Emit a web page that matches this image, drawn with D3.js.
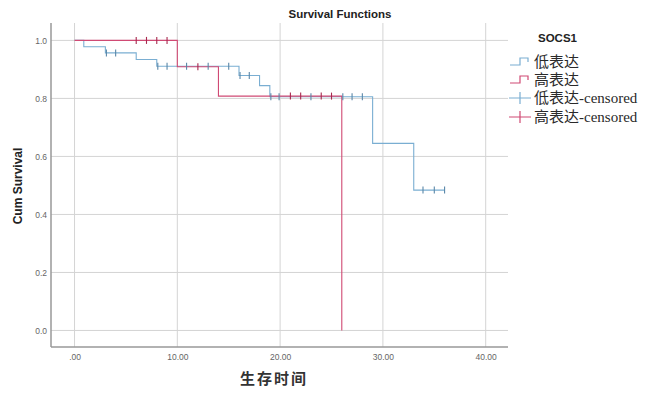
<!DOCTYPE html>
<html>
<head>
<meta charset="utf-8">
<script src="https://cdn.jsdelivr.net/npm/d3@7"></script>
<style>
  body { margin: 0; background: #fff; }
  svg { display: block; }
  .tick-label { font-family: Arial, "Liberation Sans", sans-serif; font-size: 8.5px; fill: #666; }
  .legend-text { font-family: "Liberation Serif", "Noto Sans CJK SC", serif; font-size: 15px; fill: #2a2a2a; }
</style>
</head>
<body>
<svg id="chart" width="657" height="395"></svg>
<script>
// survival steps: [time, cum survival]
const lowSteps = [[0, 1], [0.9, 0.978], [3.0, 0.957], [6.0, 0.934], [8.0, 0.911],
  [16.0, 0.879], [18.0, 0.844], [19.0, 0.806], [29.0, 0.645], [33.0, 0.484]];
const lowEnd = 36.0;
const lowCensored = [3.1, 4.0, 8.1, 9.0, 10.9, 13.0, 15.0, 16.1, 17.0,
  19.1, 19.9, 23.0, 26.1, 27.0, 28.0, 33.9, 35.0, 36.0];

const highSteps = [[0, 1], [10.0, 0.909], [14.0, 0.808], [26.0, 0.0]];
const highEnd = 26.0;
const highCensored = [6.0, 7.0, 8.0, 9.0, 12.0, 21.0, 22.0, 24.0, 25.0];

const xTicks = [0, 10, 20, 30, 40];
const yTicks = [0, 0.2, 0.4, 0.6, 0.8, 1.0];
const groups = ["低表达", "高表达"];
const colors = ["#7aaed2", "#d04a74"];
const markColors = ["#5a87a8", "#a8294f"];

const svg = d3.select("#chart");
const plot = { left: 51, right: 508, top: 23, bottom: 347 };

const x = d3.scaleLinear().domain([-2.29, 42.17]).range([plot.left, plot.right]);
const y = d3.scaleLinear().domain([-0.057, 1.06]).range([plot.bottom, plot.top]);

// grid
svg.append("g").selectAll("line").data(xTicks).join("line")
  .attr("x1", d => x(d)).attr("x2", d => x(d))
  .attr("y1", plot.top).attr("y2", plot.bottom)
  .attr("stroke", "#d4d4d4").attr("stroke-width", 1);
svg.append("g").selectAll("line").data(yTicks).join("line")
  .attr("x1", plot.left).attr("x2", plot.right)
  .attr("y1", d => y(d)).attr("y2", d => y(d))
  .attr("stroke", "#d4d4d4").attr("stroke-width", 1);

// axes
const xAxis = d3.axisBottom(x).tickValues(xTicks).tickSize(0).tickPadding(7)
  .tickFormat(d => d === 0 ? ".00" : d3.format(".2f")(d));
const yAxis = d3.axisLeft(y).tickValues(yTicks).tickSize(0).tickPadding(4)
  .tickFormat(d3.format(".1f"));

const xg = svg.append("g").attr("transform", `translate(0,${plot.bottom})`).call(xAxis);
const yg = svg.append("g").attr("transform", `translate(${plot.left},0)`).call(yAxis);
[xg, yg].forEach(g => {
  g.select(".domain").remove();
  g.selectAll("text").attr("class", "tick-label").attr("font-family", null).attr("font-size", null);
});
svg.append("line").attr("x1", plot.left).attr("x2", plot.right)
  .attr("y1", plot.bottom).attr("y2", plot.bottom).attr("stroke", "#999").attr("stroke-width", 1.5);
svg.append("line").attr("x1", plot.left).attr("x2", plot.left)
  .attr("y1", plot.top).attr("y2", plot.bottom).attr("stroke", "#999").attr("stroke-width", 1.5);

// step curves
function stepPts(steps, end) {
  const pts = steps.map(d => [d[0], d[1]]);
  const last = steps[steps.length - 1];
  if (end > last[0]) pts.push([end, last[1]]);
  return pts;
}
function survAt(steps, t) {
  let s = 1;
  steps.forEach(d => { if (d[0] <= t) s = d[1]; });
  return s;
}
const line = d3.line().x(d => x(d[0])).y(d => y(d[1])).curve(d3.curveStepAfter);

const series = [
  { steps: lowSteps, end: lowEnd, cens: lowCensored },
  { steps: highSteps, end: highEnd, cens: highCensored }
];

series.forEach((s, i) => {
  svg.append("path").datum(stepPts(s.steps, s.end))
    .attr("d", line).attr("fill", "none")
    .attr("stroke", colors[i]).attr("stroke-width", 1.1);
});
series.forEach((s, i) => {
  svg.append("g").selectAll("line").data(s.cens).join("line")
    .attr("x1", d => x(d)).attr("x2", d => x(d))
    .attr("y1", d => y(survAt(s.steps, d)) - 3.5)
    .attr("y2", d => y(survAt(s.steps, d)) + 3.5)
    .attr("stroke", markColors[i]).attr("stroke-width", 1.1);
});

// titles
svg.append("text").attr("x", 340).attr("y", 18).attr("text-anchor", "middle")
  .attr("font-family", "Arial, 'Liberation Sans', sans-serif").attr("font-weight", "bold")
  .attr("font-size", 11.5).attr("fill", "#222").text("Survival Functions");
svg.append("text").attr("transform", "translate(22,186) rotate(-90)").attr("text-anchor", "middle")
  .attr("font-family", "Arial, 'Liberation Sans', sans-serif").attr("font-weight", "bold")
  .attr("font-size", 12).attr("fill", "#222").text("Cum Survival");
svg.append("text").attr("x", 274).attr("y", 384).attr("text-anchor", "middle")
  .attr("font-family", "'Noto Sans CJK SC', serif").attr("font-weight", "bold")
  .attr("font-size", 15).attr("fill", "#333").attr("letter-spacing", 2).text("生存时间");

// legend
svg.append("text").attr("x", 538).attr("y", 42)
  .attr("font-family", "Arial, 'Liberation Sans', sans-serif").attr("font-weight", "bold")
  .attr("font-size", 11.5).attr("fill", "#222").text("SOCS1");
const legendRows = [62, 80, 98, 117];
const legendItems = [
  { label: groups[0], i: 0, type: "step" },
  { label: groups[1], i: 1, type: "step" },
  { label: groups[0] + "-censored", i: 0, type: "cross" },
  { label: groups[1] + "-censored", i: 1, type: "cross" }
];
legendItems.forEach((d, k) => {
  const cy = legendRows[k];
  const g = svg.append("g");
  if (d.type === "step") {
    g.append("path").attr("d", `M510,${cy + 3}H520V${cy - 4}H528V${cy}`)
      .attr("fill", "none").attr("stroke", colors[d.i]).attr("stroke-width", 1.2);
  } else {
    g.append("path").attr("d", `M509,${cy}H531M520,${cy - 6}V${cy + 6}`)
      .attr("fill", "none").attr("stroke", colors[d.i]).attr("stroke-width", 1.2);
  }
  g.append("text").attr("class", "legend-text").attr("x", 534).attr("y", cy + 5).text(d.label);
});
</script>
</body>
</html>
